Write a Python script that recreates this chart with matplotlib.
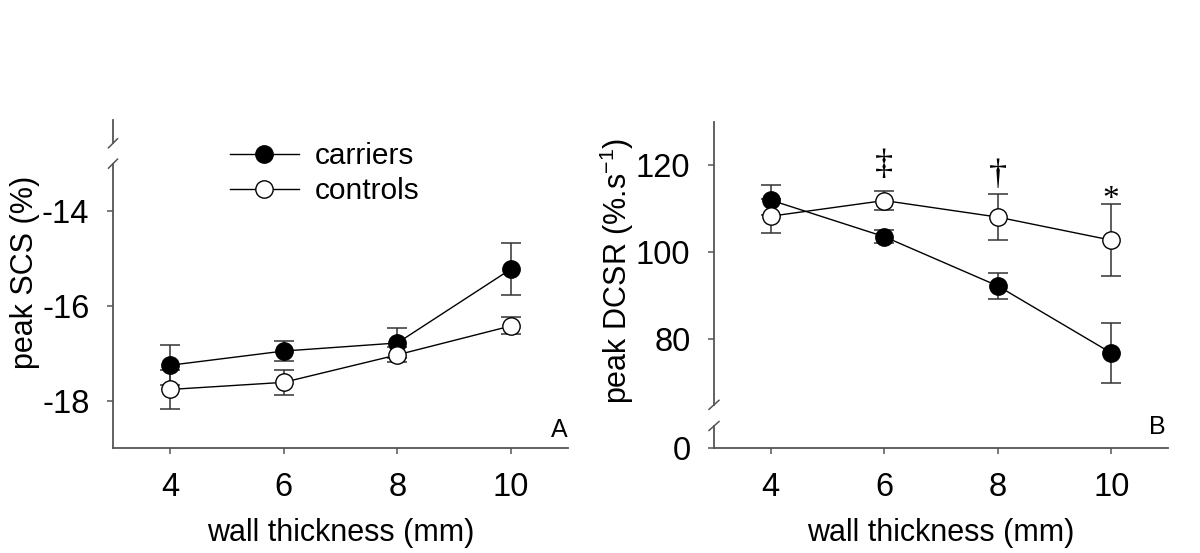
import matplotlib
matplotlib.use("Agg")
import matplotlib.pyplot as plt

plt.rcParams['font.family'] = ['Liberation Sans', 'DejaVu Sans']
plt.rcParams['axes.unicode_minus'] = False
plt.rcParams['mathtext.default'] = 'regular'

# ---- data ----
wall_thickness = [4, 6, 8, 10]
x_ticks = [4, 6, 8, 10]

scs_carriers = [-17.25, -16.95, -16.78, -15.22]
scs_carriers_err = [0.42, 0.22, 0.32, 0.55]
scs_controls = [-17.76, -17.61, -17.03, -16.42]
scs_controls_err = [0.41, 0.26, 0.16, 0.18]

dcsr_carriers = [112.0, 103.6, 92.3, 76.9]
dcsr_carriers_err = [3.4, 1.5, 3.0, 6.9]
dcsr_controls = [108.3, 111.9, 108.1, 102.8]
dcsr_controls_err = [3.9, 2.2, 5.2, 8.3]

sig_marks = ['\u2021', '\u2020', '*']
sig_x = [6, 8, 10]
sig_offsets_pt = [6.5, 1.5, -8]
sig_sizes = [26, 26, 24]

scs_ticks = [-14, -16, -18]
dcsr_ticks = [80, 100, 120]

W, H = 1200, 553
fig = plt.figure(figsize=(W / 100, H / 100), dpi=100)

def px_axes(left, top, right, bottom):
    return fig.add_axes([left / W, 1 - bottom / H, (right - left) / W, (bottom - top) / H])

SPINE = '#555555'
TICKFS = 23.5
LABFS = 22
LEGFS = 21.5
MS = 12.5

def style(ax):
    for s in ['top', 'right']:
        ax.spines[s].set_visible(False)
    for s in ['left', 'bottom']:
        ax.spines[s].set_color(SPINE)
        ax.spines[s].set_linewidth(1.3)
    ax.tick_params(axis='both', direction='out', length=4, width=1.1, color=SPINE,
                   labelsize=TICKFS, pad=13)
    ax.set_xlim(3, 11)

def draw_series(ax, xs, c, ce, o, oe):
    ax.errorbar(xs, c, yerr=ce, fmt='none', ecolor='#333333', elinewidth=1.1,
                capsize=7, capthick=1.1, zorder=1)
    ax.errorbar(xs, o, yerr=oe, fmt='none', ecolor='#333333', elinewidth=1.1,
                capsize=7, capthick=1.1, zorder=1)
    h1, = ax.plot(xs, c, '-o', color='black', lw=1.0, ms=MS, mfc='black',
                  mec='black', mew=1.0, zorder=2, label='carriers')
    h2, = ax.plot(xs, o, '-o', color='black', lw=1.0, ms=MS, mfc='white',
                  mec='black', mew=1.0, zorder=3, label='controls')
    return h1, h2

# ---------------- Panel A ----------------
axA = px_axes(113, 120, 568, 448.3)
style(axA)
axA.set_ylim(-19, -12.08)
axA.set_yticks(scs_ticks)
axA.set_xticks(x_ticks)
axA.spines['left'].set_bounds(-19, -13.0)
h1, h2 = draw_series(axA, wall_thickness, scs_carriers, scs_carriers_err,
                     scs_controls, scs_controls_err)
ytr = axA.get_yaxis_transform()
axA.plot([0, 0], [-12.57, -12.08], color=SPINE, lw=1.3, transform=ytr, clip_on=False)
dx = 4.5 / 455
dy = 4.5 / 47.4
for yb in (-12.57, -13.0):
    axA.plot([-dx, dx], [yb - dy, yb + dy], color=SPINE, lw=1.1, transform=ytr, clip_on=False)
axA.set_xlabel('wall thickness (mm)', fontsize=LABFS, labelpad=11)
axA.set_ylabel('peak SCS (%)', fontsize=LABFS)
axA.yaxis.set_label_coords(-0.16, 0.537)
axA.text(0.998, 0.02, 'A', transform=axA.transAxes, ha='right', va='bottom', fontsize=18)
axA.legend(handles=[h1, h2], loc='upper left', bbox_to_anchor=(230 / W, 1 - 142 / H),
           bbox_transform=fig.transFigure, frameon=False, fontsize=LEGFS,
           handlelength=2.3, handletextpad=0.55, labelspacing=0.24,
           borderpad=0, borderaxespad=0)

# ---------------- Panel B ----------------
axBt = px_axes(714, 121.7, 1168, 404.8)
axBb = px_axes(714, 426, 1168, 448.3)
style(axBt)
style(axBb)
axBt.spines['bottom'].set_visible(False)
axBt.tick_params(axis='x', bottom=False, labelbottom=False)
axBt.set_ylim(65, 130)
axBt.set_yticks(dcsr_ticks)
axBb.set_ylim(0, 5.1)
axBb.set_yticks([0])
axBb.set_xticks(x_ticks)
axBb.patch.set_visible(False)

draw_series(axBt, wall_thickness, dcsr_carriers, dcsr_carriers_err,
            dcsr_controls, dcsr_controls_err)
idx = [wall_thickness.index(v) for v in sig_x]
for m, xv, i, off, fs in zip(sig_marks, sig_x, idx, sig_offsets_pt, sig_sizes):
    yv = dcsr_controls[i] + dcsr_controls_err[i]
    axBt.annotate(m, (xv, yv), xytext=(0, off), textcoords='offset points',
                  ha='center', va='bottom', fontsize=fs,
                  family=['Liberation Serif', 'DejaVu Serif'])

dxb = 5 / 454
for ax, yv, hpx in ((axBt, 0.0, 283.1), (axBb, 1.0, 22.3)):
    d = 4.5 / hpx
    ax.plot([-dxb, dxb], [yv - d, yv + d], color=SPINE, lw=1.1,
            transform=ax.transAxes, clip_on=False)

axBb.set_xlabel('wall thickness (mm)', fontsize=LABFS, labelpad=11)
axBt.set_ylabel('peak DCSR (%.s$^{-1}$)', fontsize=LABFS)
axBt.yaxis.set_label_coords(-0.172, 0.473)
axBb.text(0.995, 0.4, 'B', transform=axBb.transAxes, ha='right', va='bottom', fontsize=18)

fig.savefig('out.png', dpi=100)
